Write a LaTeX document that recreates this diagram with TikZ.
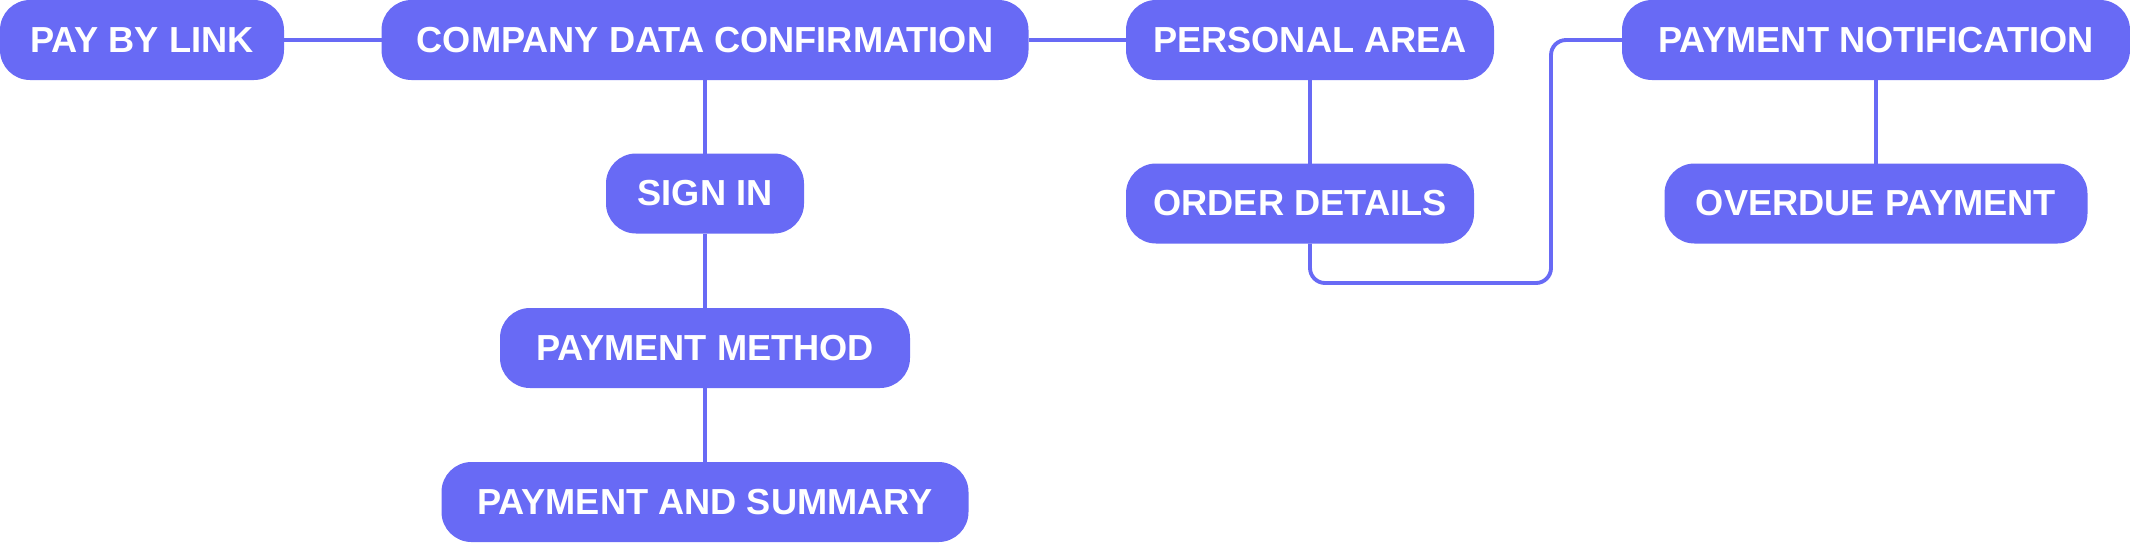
\documentclass[tikz,border=0pt]{standalone}
\usepackage{fontspec}
\setmainfont{Liberation Sans}
\usepackage{tikz}
\definecolor{stageblue}{RGB}{104,106,245}

\begin{document}
\begin{tikzpicture}[line width=1.1pt, % line style
	link/.style={draw=stageblue},
	every node/.style={rounded corners=0.3cm,fill=stageblue,text=white,
		font=\bfseries\fontsize{10.3}{12}\selectfont,inner sep=0pt,outer sep=0pt,minimum height=0.8cm}]
	\useasboundingbox (0,0) rectangle (21.3,-5.42);

	% top row
	\node[minimum width=2.84cm] (pay) at (1.42,-0.4)	{PAY BY LINK};
	\node[minimum width=6.47cm] (cdc) at (7.05,-0.4)	{COMPANY DATA CONFIRMATION};
	\node[minimum width=3.68cm] (pa)  at (13.10,-0.4)	{PERSONAL AREA};
	\node[minimum width=5.08cm] (pn)  at (18.76,-0.4)	{PAYMENT NOTIFICATION};

	% checkout column
	\node[minimum width=1.98cm] (sign) at (7.05,-1.935)	{SIGN IN};
	\node[minimum width=4.10cm] (pm)   at (7.05,-3.48)	{PAYMENT METHOD};
	\node[minimum width=5.27cm] (pas)  at (7.05,-5.02)	{PAYMENT AND SUMMARY};

	% second row
	\node[minimum width=3.48cm] (od) at (13.00,-2.035)	{ORDER DETAILS};
	\node[minimum width=4.23cm] (op) at (18.76,-2.035)	{OVERDUE PAYMENT};

	\coordinate (bend) at (15.51,-2.83);

	\draw[link] (pay)--(cdc);
	\draw[link] (cdc)--(pa);
	\draw[link] (cdc)--(sign);
	\draw[link] (sign)--(pm);
	\draw[link] (pm)--(pas);
	\draw[link] (pa.south)--(pa.south |- od.north);
	\draw[link,rounded corners=0.15cm] (pa.south |- od.south) |- (bend) |- (pn.west);
	\draw[link] (pn)--(op);

\end{tikzpicture}
\end{document}
